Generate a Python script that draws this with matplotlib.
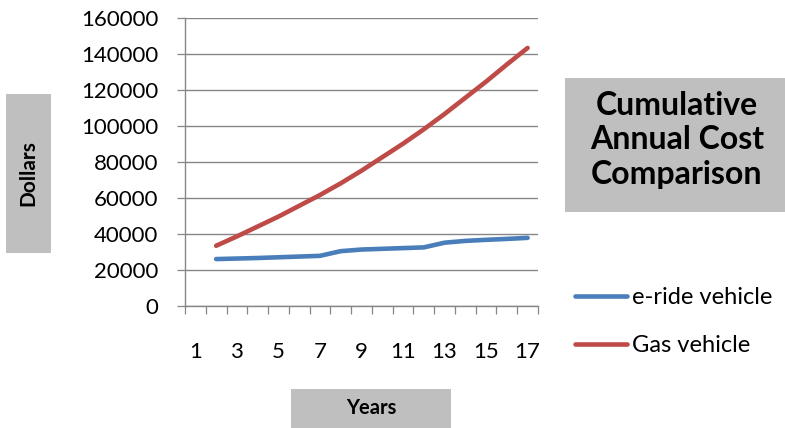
import matplotlib
matplotlib.use('Agg')
import matplotlib.pyplot as plt
from matplotlib.patches import Rectangle

plt.rcParams['font.family'] = ['Lato', 'DejaVu Sans']

# categories 1..17, first year has no value
years = list(range(1, 18))
year_labels = [str(y) if y % 2 == 1 else '' for y in years]
ride_years = list(range(2, 18))
eride_cost = [25900, 26200, 26500, 26900, 27300, 27700, 30300, 31200,
              31600, 32000, 32400, 35000, 36000, 36600, 37100, 37700]
gas_cost = [33300, 38500, 44000, 49500, 55500, 61500, 68000, 75000,
            82500, 90000, 98000, 106500, 115500, 124500, 134000, 143200]
y_ticks = list(range(0, 160001, 20000))

grey = '#868686'
box = '#bfbfbf'

W, H = 785, 428
fig = plt.figure(figsize=(W / 100, H / 100), dpi=100)
ax = fig.add_axes([185 / W, 1 - 305.7 / H, (538 - 185) / W, (305.7 - 17.7) / H])

ax.plot(ride_years, eride_cost, color='#4a7ebb', lw=3.3,
        solid_capstyle='round', solid_joinstyle='round', label='e-ride vehicle')
ax.plot(ride_years, gas_cost, color='#be4b48', lw=3.3,
        solid_capstyle='round', solid_joinstyle='round', label='Gas vehicle')

ax.set_xlim(0.5, 17.5)
ax.set_ylim(0, 160000)
ax.set_yticks(y_ticks)
ax.set_yticklabels([str(v) for v in y_ticks])
ax.set_xticks(years)
ax.set_xticklabels(year_labels)
ax.set_xticks([y - 0.5 for y in years] + [17.5], minor=True)
ax.tick_params(axis='x', which='major', length=0, pad=26, labelsize=16)
ax.tick_params(axis='x', which='minor', length=5.5, color=grey, width=0.9)
ax.tick_params(axis='y', length=6, color=grey, width=0.9, pad=13, labelsize=16)
ax.grid(axis='y', color=grey, lw=1.0)
ax.set_axisbelow(True)
for s in ['top', 'right']:
    ax.spines[s].set_visible(False)
for s in ['left', 'bottom']:
    ax.spines[s].set_color(grey)
    ax.spines[s].set_linewidth(1.0)

leg = ax.legend(loc='upper left', bbox_to_anchor=(575 / W, 1 - 287 / H),
                bbox_transform=fig.transFigure, frameon=False, fontsize=17,
                handlelength=2.2, handletextpad=0.2, labelspacing=1.15,
                borderaxespad=0, borderpad=0)
for line in leg.get_lines():
    line.set_linewidth(3.3)
    line.set_solid_capstyle('round')

# grey boxes with axis titles and chart title
fig.add_artist(Rectangle((6 / W, 1 - 253 / H), 45 / W, 159 / H,
                         transform=fig.transFigure, color=box, lw=0))
fig.text(28.5 / W, 1 - 173.5 / H, 'Dollars', rotation=90, ha='center',
         va='center', fontsize=15, fontweight='bold')

fig.add_artist(Rectangle((291 / W, 0), 160 / W, 39 / H,
                         transform=fig.transFigure, color=box, lw=0))
fig.text(371 / W, 1 - 408 / H, 'Years', ha='center', va='center',
         fontsize=14.5, fontweight='bold')

fig.add_artist(Rectangle((565 / W, 1 - 212 / H), 220 / W, 134 / H,
                         transform=fig.transFigure, color=box, lw=0))
fig.text(677 / W, 1 - 140 / H, 'Cumulative\nAnnual Cost\nComparison',
         ha='center', va='center', fontsize=23, fontweight='bold',
         linespacing=1.22)

fig.savefig('out.png', dpi=100)
